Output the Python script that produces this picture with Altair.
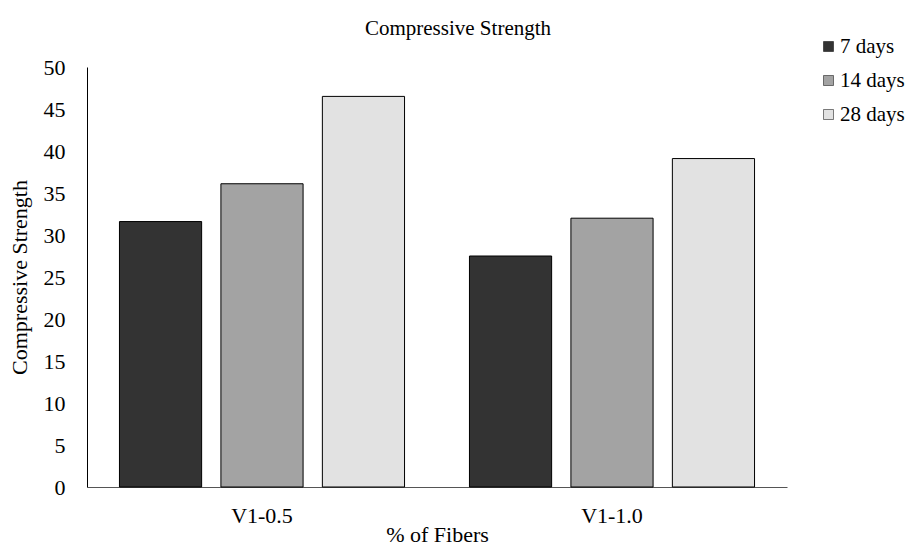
import altair as alt
import pandas as pd

categories = ["V1-0.5", "V1-1.0"]
series = ["7 days", "14 days", "28 days"]
values_7 = [31.6, 27.5]
values_14 = [36.1, 32.0]
values_28 = [46.5, 39.1]
y_ticks = [0, 5, 10, 15, 20, 25, 30, 35, 40, 45, 50]
colors = ["#333333", "#a3a3a3", "#e2e2e2"]

rows = []
for s, vals in zip(series, [values_7, values_14, values_28]):
    for c, v in zip(categories, vals):
        rows.append({"cat": c, "series": s, "value": v})
df = pd.DataFrame(rows)

FONT = "Liberation Serif"
FS = 22

chart = alt.Chart(df).mark_bar(stroke="black", strokeWidth=1).encode(
    x=alt.X("cat:N", sort=categories,
            scale=alt.Scale(paddingInner=0, paddingOuter=0),
            axis=alt.Axis(title="% of Fibers", labelAngle=0, ticks=False,
                          domainColor="#555555", labelPadding=18,
                          titlePadding=-2)),
    xOffset=alt.XOffset("series:N", sort=series,
                        scale=alt.Scale(paddingInner=0.19, paddingOuter=0.32)),
    y=alt.Y("value:Q",
            scale=alt.Scale(domain=[0, 50], nice=False),
            axis=alt.Axis(title="Compressive Strength", values=y_ticks,
                          ticks=False, grid=False, domainColor="black",
                          labelPadding=22, titlePadding=12)),
    fill=alt.Fill("series:N", sort=series,
                  scale=alt.Scale(domain=series, range=colors),
                  legend=alt.Legend(title=None, orient="none", legendX=731,
                                    legendY=-31, symbolType="square",
                                    symbolSize=100, symbolStrokeColor="black",
                                    symbolStrokeWidth=0.5, rowPadding=12,
                                    labelOffset=1, padding=0)),
).properties(
    width=700,
    height=420,
    title=alt.TitleParams("Compressive Strength", fontSize=21, font=FONT,
                          fontWeight="normal", anchor="middle", dx=21,
                          frame="group", offset=-3, color="black"),
    autosize=alt.AutoSizeParams(type="none"),
    padding={"left": 79, "top": 59, "right": 122, "bottom": 61},
).configure_view(stroke=None).configure_axis(
    labelFont=FONT, titleFont=FONT, labelFontSize=FS, titleFontSize=FS,
    labelColor="black", titleColor="black", titleFontWeight="normal",
).configure_legend(
    labelFont=FONT, labelFontSize=21, labelColor="black",
)

chart.save("out.html", embed_options={"renderer": "svg", "actions": False})
